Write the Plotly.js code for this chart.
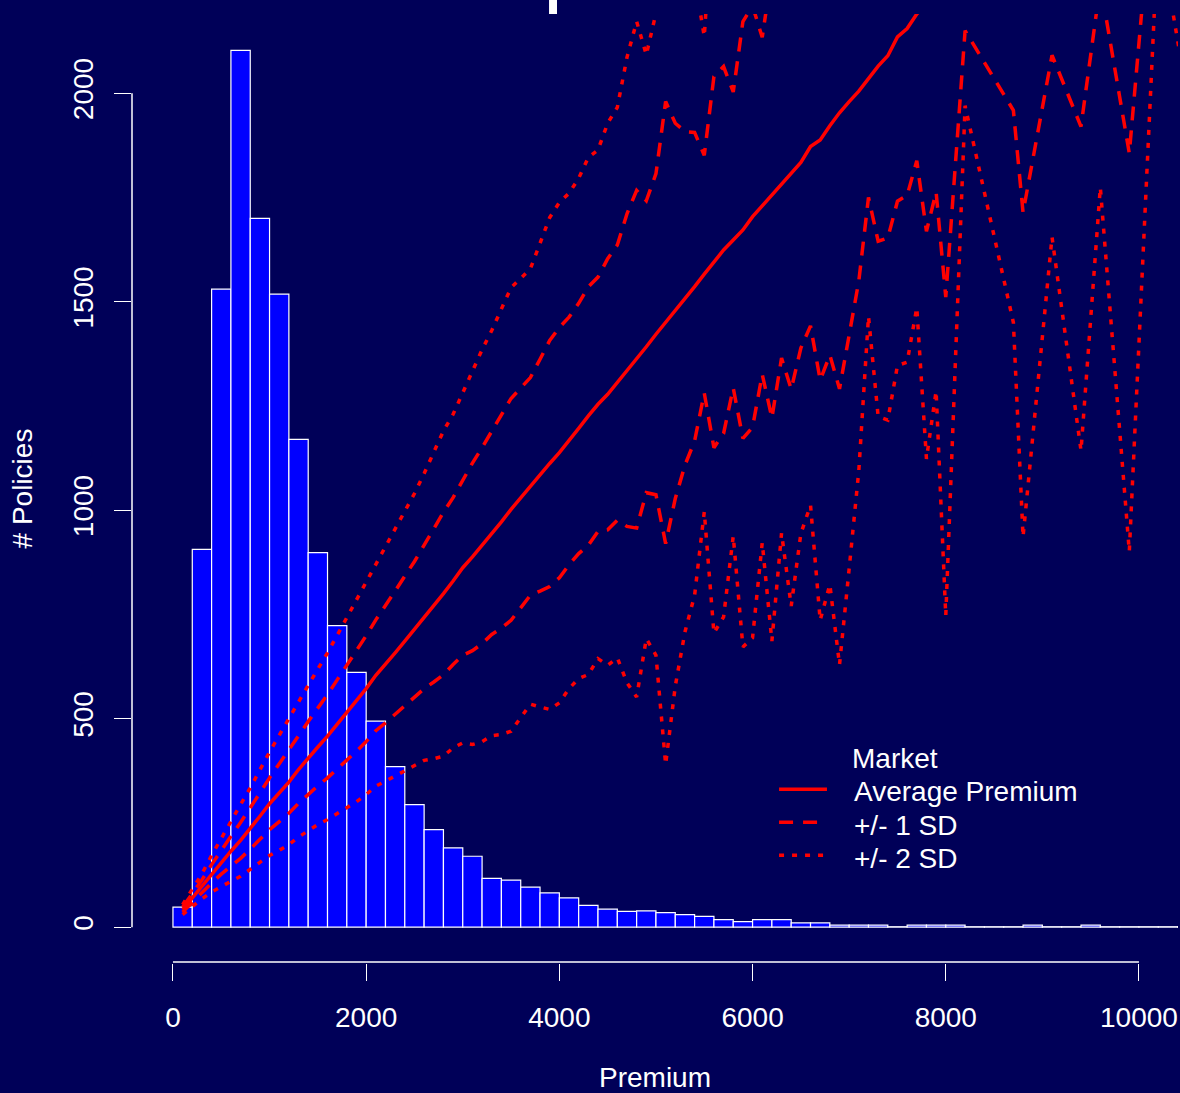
<!DOCTYPE html>
<html>
<head>
<meta charset="utf-8">
<script src="https://cdn.plot.ly/plotly-3.0.1.min.js"></script>
<style>html,body{margin:0;padding:0;background:#000058;}#chart{width:1180px;height:1093px;}</style>
</head>
<body>
<div id="chart"></div>
<script>
// Histogram: bin centres (bin width 200) and counts of policies
const binCentre = [100,300,500,700,900,1100,1300,1500,1700,1900,
  2100,2300,2500,2700,2900,3100,3300,3500,3700,3900,
  4100,4300,4500,4700,4900,5100,5300,5500,5700,5900,
  6100,6300,6500,6700,6900,7100,7300,7500,7700,7900,
  8100,8300,8500,8700,8900,9100,9300,9500,9700,9900,
  10100,10300,10500];
const policyCount = [48,906,1530,2103,1700,1518,1170,898,723,611,
  494,385,294,234,190,170,117,113,96,82,
  70,52,43,38,39,35,30,26,18,13,
  18,18,10,10,5,5,5,1,5,5,
  5,1,1,1,5,1,1,5,1,1,
  1,1,1];

// Market premium curves
const premiumX = [100,200,300,400,500,600,700,800,900,1000,
  1100,1200,1300,1400,1500,1600,1700,1800,1900,2000,
  2100,2200,2300,2400,2500,2600,2700,2800,2900,3000,
  3100,3200,3300,3400,3500,3600,3700,3800,3900,4000,
  4100,4200,4300,4400,4500,4600,4700,4800,4900,5000,
  5100,5200,5300,5400,5500,5600,5700,5800,5900,6000,
  6100,6200,6300,6400,6500,6600,6700,6800,6900,7000,
  7100,7200,7300,7400,7500,7600,7700,7800,7900,8000,
  8200,8700,8800,9100,9400,9600,9900,10200,10500];
const avgPremium = [42,70,98,128,156,182,208,236,266,296,
  322,348,378,406,432,458,486,514,543,572,
  604,630,658,686,714,744,772,800,830,862,
  888,915,945,972,1002,1030,1057,1084,1112,1138,
  1166,1196,1226,1254,1278,1306,1336,1362,1392,1422,
  1450,1478,1508,1536,1566,1595,1624,1648,1672,1704,
  1730,1756,1785,1810,1834,1872,1888,1922,1953,1980,
  2005,2035,2065,2090,2135,2155,2190,2215,2240,2275,
  2330,2468,2492,2527,2697,2750,2811,2900,2990];
const plus1SD = [48,80,113,150,185,218,251,285,322,358,
  391,423,459,493,525,558,593,628,664,699,
  737,770,806,842,877,916,956,995,1030,1072,
  1113,1150,1188,1227,1268,1293,1318,1362,1407,1438,
  1463,1496,1536,1559,1603,1636,1711,1767,1742,1807,
  1980,1928,1908,1906,1851,2040,2064,2003,2172,2209,
  2134,2291,2205,2330,2279,2302,2464,2472,2615,2540,
  2460,2320,2485,2527,2529,2555,2542,2761,2717,3039,
  2510,2977,3270,2963,3474,3238,3766,3150,3490];
const minus1SD = [36,60,83,106,127,146,165,187,210,234,
  253,273,297,319,339,358,379,400,422,445,
  471,490,510,530,551,572,588,605,630,652,
  663,680,702,717,736,767,796,806,817,838,
  869,896,916,949,953,976,961,957,1042,1037,
  920,1028,1108,1166,1281,1150,1184,1293,1172,1199,
  1326,1221,1365,1290,1389,1442,1312,1372,1291,1420,
  1550,1750,1645,1653,1741,1755,1838,1669,1763,1511,
  2150,1959,1714,2091,1920,2262,1856,2650,2490];
const plus2SD = [54,90,128,172,214,254,294,334,378,420,
  460,498,540,580,618,658,700,742,785,826,
  870,910,954,998,1040,1088,1140,1190,1230,1282,
  1338,1385,1431,1482,1534,1556,1579,1640,1702,1738,
  1760,1796,1846,1864,1928,1966,2086,2172,2092,2192,
  2510,2378,2308,2276,2136,2485,2504,2358,2672,2714,
  2538,2826,2625,2850,2724,2732,3040,3022,3277,3100,
  2915,2605,2905,2964,2923,2955,2894,3307,3194,3803,
  2690,3486,4048,3399,4251,3726,4721,3400,3990];
const minus2SD = [30,50,68,84,98,110,122,138,154,172,
  184,198,216,232,246,258,272,286,301,318,
  338,350,362,374,388,400,404,410,430,442,
  438,445,459,462,470,504,535,528,522,538,
  572,596,606,644,628,646,586,552,692,652,
  390,578,708,796,996,705,744,938,672,694,
  922,686,945,770,944,1012,736,822,629,860,
  1095,1465,1225,1216,1347,1355,1486,1123,1286,747,
  1970,1450,936,1655,1143,1774,901,2400,1990];

const xTicks = [0,2000,4000,6000,8000,10000];
const yTicks = [0,500,1000,1500,2000];

// Legend entries
const legendTitle = 'Market';
const legendLabels = ['Average Premium', '+/- 1 SD', '+/- 2 SD'];

const BG = '#000058';
const RED = '#FF0000';
const WHITE = '#FFFFFF';
const FONT = 'Liberation Sans, Arial, Helvetica, sans-serif';
const DASH1 = '14px,10px';
const DASH2 = '5px,8px';
const legendDash = ['solid', DASH1, DASH2];

const traces = [
  {type:'bar', x:binCentre, y:policyCount, width:200,
   marker:{color:'#0000FF', line:{color:WHITE, width:1.2}},
   name:'# Policies', hoverinfo:'x+y'},
  {type:'scatter', mode:'lines', x:premiumX, y:avgPremium, name:legendLabels[0],
   line:{color:RED, width:3.5}},
  {type:'scatter', mode:'lines', x:premiumX, y:plus1SD, name:legendLabels[1],
   line:{color:RED, width:3.5, dash:DASH1}},
  {type:'scatter', mode:'lines', x:premiumX, y:minus1SD, name:legendLabels[1],
   line:{color:RED, width:3.5, dash:DASH1}},
  {type:'scatter', mode:'lines', x:premiumX, y:plus2SD, name:legendLabels[2],
   line:{color:RED, width:3.5, dash:DASH2}},
  {type:'scatter', mode:'lines', x:premiumX, y:minus2SD, name:legendLabels[2],
   line:{color:RED, width:3.5, dash:DASH2}}
];

// Manual legend (R style: no box, tight rows)
const legendTextX = 0.6883, legendLineX0 = 0.6186, legendLineX1 = 0.6644;
const legendRowY = [0.1802, 0.1454, 0.1106];
const annotations = [
  {xref:'paper', yref:'paper', x:0.6864, y:0.2150, xanchor:'left', yanchor:'middle',
   text:legendTitle, showarrow:false, font:{family:FONT, size:28, color:WHITE}}
];
const shapes = [
  {type:'line', xref:'paper', yref:'y', x0:0, x1:0, y0:0, y1:2000, line:{color:WHITE, width:1.5}},
  {type:'line', xref:'x', yref:'paper', x0:0, x1:10000, y0:0.001, y1:0.001, line:{color:WHITE, width:1.5}},
  {type:'rect', xref:'paper', yref:'paper', x0:0.3987, x1:0.4063, y0:1.0, y1:1.02, fillcolor:WHITE, line:{width:0}, layer:'above'}
];
legendLabels.forEach((lab, i) => {
  annotations.push({xref:'paper', yref:'paper', x:legendTextX, y:legendRowY[i], xanchor:'left', yanchor:'middle',
    text:lab, showarrow:false, font:{family:FONT, size:28, color:WHITE}});
  shapes.push({type:'line', xref:'paper', yref:'paper', x0:legendLineX0, x1:legendLineX1,
    y0:legendRowY[i] + 0.003, y1:legendRowY[i] + 0.003, line:{color:RED, width:3.5, dash:legendDash[i]}});
});

const layout = {
  width:1180, height:1093,
  paper_bgcolor:BG, plot_bgcolor:BG,
  margin:{l:132, r:2, t:14, b:130},
  font:{family:FONT, size:28, color:WHITE},
  bargap:0,
  showlegend:false,
  xaxis:{range:[-424,10404], showgrid:false, zeroline:false, showline:false,
    tickmode:'array', tickvals:xTicks, ticktext:xTicks.map(String),
    ticks:'outside', ticklen:17, tickwidth:1, tickcolor:WHITE,
    ticklabelstandoff:12,
    tickfont:{family:FONT, size:28, color:WHITE},
    title:{text:'Premium', font:{family:FONT, size:28, color:WHITE}, standoff:38}},
  yaxis:{range:[-86,2190], showgrid:false, zeroline:false, showline:false,
    tickmode:'array', tickvals:yTicks, ticktext:yTicks.map(String),
    ticks:'outside', ticklen:17, tickwidth:1, tickcolor:WHITE, tickangle:-90,
    ticklabelstandoff:10,
    tickfont:{family:FONT, size:28, color:WHITE},
    title:{text:'# Policies', font:{family:FONT, size:28, color:WHITE}, standoff:26}},
  annotations:annotations,
  shapes:shapes
};

Plotly.newPlot('chart', traces, layout, {displayModeBar:false, staticPlot:true});
</script>
</body>
</html>
